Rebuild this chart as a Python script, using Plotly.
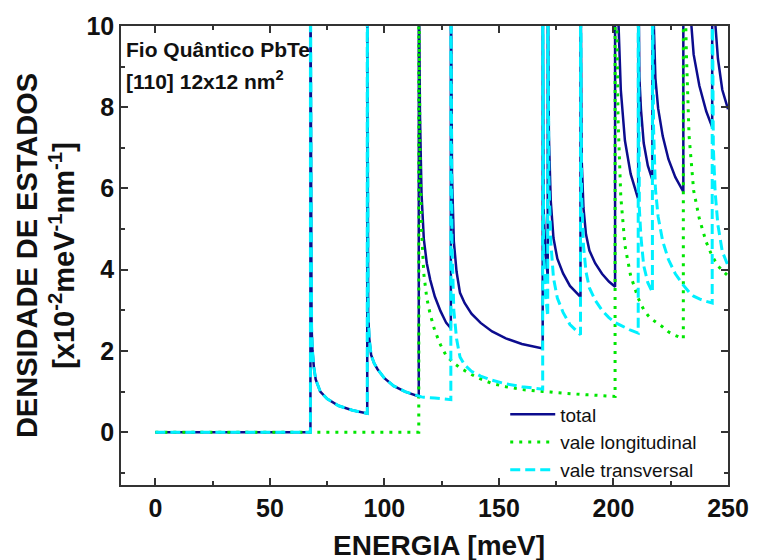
import plotly.graph_objects as go

# Energy grid (meV); repeated values mark the vertical jumps at subband edges
energia = [0, 67.7, 67.7, 68.2, 68.6, 69.2, 70, 72, 75, 80, 86, 92.5,
           92.5, 92.9, 93.4, 94.2, 95.5, 97, 100, 104, 109, 115,
           115, 115.5, 116.2, 117.2, 118.5, 120, 122, 124.5, 127, 129,
           129, 129.5, 130.3, 131.5, 133, 135, 138, 142, 147, 153, 160, 169.1,
           169.1, 169.5, 170.3, 171.3,
           171.3, 171.8, 172.6, 173.8, 175.5, 178, 181, 185.6,
           185.6, 186.1, 186.9, 188, 189.5, 192, 195, 198, 200.7,
           200.7, 201.2, 202, 203.2, 205, 207.5, 210.8,
           210.8, 211.3, 212, 213.2, 215, 217,
           217, 217.5, 218.3, 219.5, 221.5, 224, 227, 230.5,
           230.5, 231, 231.8, 233, 235, 237.5, 240.5, 243.1,
           243.1, 243.6, 244.4, 245.6, 247.5, 250]

# Density of states [x10^-2 meV^-1 nm^-1] (values above 10 are off the top of the frame)
vale_transversal = [0, 0, 12, 2.6, 2.0, 1.6, 1.3, 1.0, 0.82, 0.65, 0.54, 0.46,
                    12, 2.9, 2.3, 1.9, 1.7, 1.55, 1.33, 1.14, 1.0, 0.88,
                    0.88, 0.87, 0.87, 0.86, 0.86, 0.85, 0.84, 0.83, 0.81, 0.80,
                    12, 4.6, 3.0, 2.3, 1.85, 1.66, 1.50, 1.38, 1.28, 1.19, 1.12, 1.06,
                    12, 4.5, 3.4, 2.85,
                    12, 6.3, 4.72, 3.8, 3.3, 2.95, 2.65, 2.40,
                    12, 5.8, 4.6, 3.95, 3.55, 3.25, 3.0, 2.82, 2.70,
                    2.70, 2.69, 2.67, 2.63, 2.58, 2.51, 2.44,
                    12, 5.5, 4.8, 4.1, 3.68, 3.44,
                    12, 7.5, 6.0, 5.3, 4.7, 4.25, 3.9, 3.62,
                    3.62, 3.58, 3.52, 3.45, 3.35, 3.28, 3.22, 3.18,
                    12, 7.0, 5.9, 5.1, 4.45, 4.1]

vale_longitudinal = [0, 0, 0, 0, 0, 0, 0, 0, 0, 0, 0, 0,
                     0, 0, 0, 0, 0, 0, 0, 0, 0, 0,
                     12, 7.0, 5.0, 3.9, 3.3, 2.9, 2.5, 2.15, 1.88, 1.76,
                     1.76, 1.74, 1.70, 1.65, 1.58, 1.52, 1.42, 1.31, 1.20, 1.12, 1.05, 1.00,
                     1.00, 1.00, 0.99, 0.99,
                     0.99, 0.99, 0.99, 0.98, 0.97, 0.96, 0.95, 0.93,
                     0.93, 0.93, 0.92, 0.92, 0.92, 0.91, 0.90, 0.89, 0.88,
                     12, 11.5, 7.7, 5.8, 4.6, 3.85, 3.3,
                     3.3, 3.25, 3.15, 3.02, 2.88, 2.77,
                     2.77, 2.75, 2.72, 2.67, 2.59, 2.47, 2.38, 2.30,
                     12, 11.5, 9.4, 7.3, 5.95, 5.25, 4.68, 4.33,
                     4.33, 4.28, 4.20, 4.10, 3.98, 3.85]

total = [0, 0, 12, 2.6, 2.0, 1.6, 1.3, 1.0, 0.82, 0.65, 0.54, 0.46,
         12, 2.9, 2.3, 1.9, 1.7, 1.55, 1.33, 1.14, 1.0, 0.88,
         12, 7.87, 5.87, 4.76, 4.16, 3.75, 3.34, 2.98, 2.69, 2.56,
         12, 6.34, 4.70, 3.95, 3.43, 3.18, 2.92, 2.69, 2.48, 2.31, 2.17, 2.06,
         12, 5.5, 4.39, 3.84,
         12, 7.29, 5.71, 4.78, 4.27, 3.91, 3.60, 3.33,
         12, 6.73, 5.52, 4.87, 4.47, 4.16, 3.90, 3.71, 3.58,
         12, 14.2, 10.37, 8.43, 7.18, 6.36, 5.74,
         12, 8.75, 7.95, 7.12, 6.56, 6.21,
         12, 10.25, 8.72, 7.97, 7.29, 6.72, 6.28, 5.92,
         12, 15.08, 12.92, 10.75, 9.30, 8.53, 7.90, 7.51,
         12, 11.28, 10.10, 9.20, 8.43, 7.95]

x_ticks = [0, 50, 100, 150, 200, 250]
y_ticks = [0, 2, 4, 6, 8, 10]

FONT = "Liberation Sans, Arial, sans-serif"

fig = go.Figure()
fig.add_trace(go.Scatter(x=energia, y=total, mode="lines", name="total",
                         line=dict(color="#0c0c8e", width=2.5),
                         legendgroup="a"))
fig.add_trace(go.Scatter(x=energia, y=vale_longitudinal, mode="lines",
                         name="vale longitudinal",
                         line=dict(color="#00e600", width=3, dash="3px,6px"),
                         legendgroup="b"))
fig.add_trace(go.Scatter(x=energia, y=vale_transversal, mode="lines",
                         name="vale transversal",
                         line=dict(color="#00f0ff", width=3, dash="10px,5px"),
                         legendgroup="c"))

axis_common = dict(showgrid=False, zeroline=False, showline=True,
                   linecolor="#333333", linewidth=1.5, mirror="ticks",
                   ticks="inside", ticklen=7, tickwidth=1.5, tickcolor="#333333",
                   tickfont=dict(family=FONT, size=25, color="#111111", weight="bold"))

fig.update_xaxes(range=[-15, 250], tickvals=x_ticks,
                 minor=dict(ticks="inside", ticklen=4, dtick=25, tick0=0,
                            tickcolor="#333333", tickwidth=1.5),
                 **axis_common)
fig.update_yaxes(range=[-1.3, 10], tickvals=y_ticks,
                 minor=dict(ticks="inside", ticklen=4, dtick=1, tick0=0,
                            tickcolor="#333333", tickwidth=1.5),
                 title=dict(text="DENSIDADE DE ESTADOS<br>[x10<sup>-2</sup>meV<sup>-1</sup>nm<sup>-1</sup>]",
                            standoff=3,
                            font=dict(family=FONT, size=29, color="#111111", weight="bold")),
                 **axis_common)

# x-axis title (placed as annotation to match its position)
fig.add_annotation(text="ENERGIA [meV]", xref="paper", yref="paper",
                   x=0.524, y=-0.131, xanchor="center", yanchor="middle", showarrow=False,
                   font=dict(family=FONT, size=28, color="#111111", weight="bold"))

fig.add_annotation(text="Fio Quântico PbTe", xref="paper", yref="paper",
                   x=0.005, y=0.948, xanchor="left", yanchor="middle", showarrow=False,
                   font=dict(family=FONT, size=21, color="#111111", weight="bold"))
fig.add_annotation(text="[110] 12x12 nm<sup>2</sup>", xref="paper", yref="paper",
                   x=0.005, y=0.882, xanchor="left", yanchor="middle", showarrow=False,
                   font=dict(family=FONT, size=21, color="#111111", weight="bold"))

fig.update_layout(
    width=761, height=560,
    margin=dict(l=121, r=25, t=26, b=75),
    paper_bgcolor="white", plot_bgcolor="white",
    showlegend=True,
    legend=dict(x=0.633, y=0.195, xanchor="left", yanchor="top",
                bgcolor="rgba(0,0,0,0)", traceorder="grouped", tracegroupgap=0,
                font=dict(family=FONT, size=19, color="#111111"),
                itemwidth=45),
)

fig.write_html("out.html")
